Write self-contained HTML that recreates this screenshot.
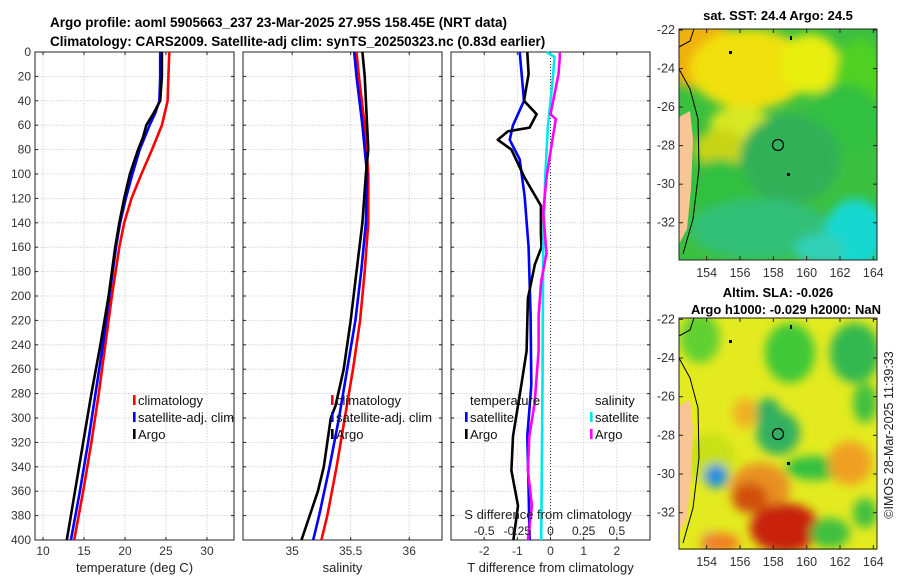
<!DOCTYPE html>
<html><head><meta charset="utf-8"><style>
body{margin:0;background:#fff;width:900px;height:580px;overflow:hidden}
svg text{font-family:"Liberation Sans",sans-serif}
</style></head><body>
<svg id="fig" width="900" height="580" xmlns="http://www.w3.org/2000/svg">
<defs>
<filter id="blur6" x="-50%" y="-50%" width="200%" height="200%"><feGaussianBlur stdDeviation="5"/></filter>
<clipPath id="clipm1"><rect x="679" y="29" width="198" height="231"/></clipPath>
<clipPath id="clipm2"><rect x="679" y="318" width="198" height="232"/></clipPath>
</defs>
<text x="50" y="27" font-size="13.5" font-weight="bold">Argo profile: aoml 5905663_237 23-Mar-2025 27.95S 158.45E (NRT data)</text>
<text x="50" y="46" font-size="13.5" font-weight="bold">Climatology: CARS2009. Satellite-adj clim: synTS_20250323.nc (0.83d earlier)</text>
<g id="g"></g>
<g id="maps"></g>
<text transform="translate(893,435) rotate(-90)" text-anchor="middle" font-size="12.5" fill="#222">©IMOS 28-Mar-2025 11:39:33</text>
</svg>
<script>
// ---- data ----
const depthTicks=[0,20,40,60,80,100,120,140,160,180,200,220,240,260,280,300,320,340,360,380,400];
const tempTicks=[10,15,20,25,30];
const salTicks=[35,35.5,36];
const salTickLabels=["35","35.5","36"];
const tdTicks=[-2,-1,0,1,2];
const sdTicks=[-0.5,-0.25,0,0.25,0.5];
const sdTickLabels=["-0.5","-0.25","0","0.25","0.5"];

const tClimDepth=[0,20,40,60,80,100,120,140,160,200,240,280,320,360,400];
const tClimVal=[25.4,25.3,25.2,24.5,23.3,22.0,20.8,19.9,19.3,18.4,17.6,16.8,15.9,14.9,13.8];
const tSatDepth=[0,20,40,50,60,80,100,120,140,160,200,240,280,320,360,400];
const tSatVal=[24.3,24.3,24.2,23.7,23.0,21.8,20.9,20.1,19.4,18.9,18.1,17.3,16.4,15.5,14.5,13.4];
const tArgoDepth=[0,20,40,50,60,70,80,100,120,140,160,200,240,280,320,360,400];
const tArgoVal=[24.5,24.5,24.3,23.5,22.6,22.2,21.6,20.6,19.9,19.3,18.8,18.0,17.0,15.9,14.9,13.9,12.9];

const sClimDepth=[0,20,60,100,140,180,220,260,300,340,380,400];
const sClimVal=[35.55,35.57,35.62,35.65,35.65,35.62,35.58,35.52,35.45,35.38,35.30,35.25];
const sSatDepth=[0,20,60,100,140,180,220,260,300,340,380,400];
const sSatVal=[35.53,35.55,35.60,35.64,35.63,35.59,35.54,35.47,35.40,35.32,35.23,35.18];
const sArgoDepth=[0,20,40,60,80,100,140,180,220,260,290,300,320,340,360,380,400];
const sArgoVal=[35.6,35.62,35.63,35.64,35.65,35.63,35.6,35.55,35.5,35.44,35.37,35.33,35.3,35.27,35.22,35.15,35.08];

const tdArgoDepth=[0,18,40,51,62,65,72,80,103,126,148,160,174,202,245,273,315,343,372,400];
const tdArgoVal=[-0.7,-0.66,-0.8,-0.42,-0.63,-1.28,-1.59,-1.18,-0.78,-0.29,-0.29,-0.27,-0.47,-0.68,-0.72,-0.88,-1.13,-1.18,-0.98,-1.12];
const tdSatDepth=[0,40,60,72,88,118,160,216,273,315,358,400];
const tdSatVal=[-0.93,-0.8,-1.13,-1.23,-0.93,-0.78,-0.66,-0.6,-0.58,-0.7,-0.66,-0.63];
const sdSatDepth=[0,4,18,62,103,160,273,400];
const sdSatVal=[-0.03,0.03,0.02,-0.02,-0.04,-0.055,-0.06,-0.07];
const sdArgoDepth=[0,4,18,40,51,55,75,103,132,165,188,216,245,288,315,343,372,400];
const sdArgoVal=[0.07,0.07,0.06,0.02,0,0.04,0.01,-0.03,-0.055,-0.03,-0.07,-0.09,-0.09,-0.12,-0.16,-0.17,-0.14,-0.17];

const mapLonTicks=[154,156,158,160,162,164];
const mapLatTicks=[-22,-24,-26,-28,-30,-32];

// ---- helpers ----
const NS="http://www.w3.org/2000/svg";
const G=document.getElementById('g');
function mk(tag,attrs,parent,text){const e=document.createElementNS(NS,tag);for(const k in attrs)e.setAttribute(k,attrs[k]);if(text!==undefined)e.textContent=text;(parent||G).appendChild(e);return e;}
const Y0=52,Y1=540;
function yD(d){return Y0+(d/400)*(Y1-Y0);}
function lin(d0,d1,r0,r1){return v=>r0+(v-d0)/(d1-d0)*(r1-r0);}

const panels=[
 {x0:35,x1:234,sx:lin(9.02,33.3,35,234),ticks:tempTicks,labels:tempTicks.map(String),xlabel:"temperature (deg C)",name:"temperature-panel",ylabels:true},
 {x0:243,x1:442,sx:lin(34.58,36.28,243,442),ticks:salTicks,labels:salTickLabels,xlabel:"salinity",name:"salinity-panel"},
 {x0:451,x1:650,sx:lin(-3,3,451,650),ticks:tdTicks,labels:tdTicks.map(String),xlabel:"T difference from climatology",name:"difference-panel"}
];
panels.forEach((p,pi)=>{
 const g=mk('g',{},G);
 
 
 depthTicks.forEach(d=>{mk('line',{x1:p.x0,x2:p.x1,y1:yD(d),y2:yD(d),stroke:'#c8cce0','stroke-width':0.8,'stroke-dasharray':'1.5,1.5'},g);});
 p.ticks.forEach(t=>{mk('line',{x1:p.sx(t),x2:p.sx(t),y1:Y0,y2:Y1,stroke:'#c8cce0','stroke-width':0.8,'stroke-dasharray':'1.5,1.5'},g);});
 depthTicks.forEach(d=>{mk('line',{x1:p.x0,x2:p.x0+3,y1:yD(d),y2:yD(d),stroke:'#222'},g);mk('line',{x1:p.x1,x2:p.x1-3,y1:yD(d),y2:yD(d),stroke:'#222'},g);
  if(p.ylabels){const t=mk('text',{x:p.x0-4,y:yD(d)+4,'text-anchor':'end','font-size':12,fill:'#333'},g,String(d));}});
 p.ticks.forEach((t,i)=>{const x=p.sx(t);mk('line',{x1:x,x2:x,y1:Y1,y2:Y1-3,stroke:'#222'},g);mk('line',{x1:x,x2:x,y1:Y0,y2:Y0+3,stroke:'#222'},g);
  const tl=mk('text',{x:x,y:555,'text-anchor':'middle','font-size':12,fill:'#333'},g,p.labels[i]);});
 const xl=mk('text',{x:(p.x0+p.x1)/2,y:572,'text-anchor':'middle','font-size':13,fill:'#222'},g,p.xlabel);
 
 mk('rect',{x:p.x0,y:Y0,width:p.x1-p.x0,height:Y1-Y0,fill:'none',stroke:'#222','stroke-width':1},g);
 p.g=g;
});
function line(p,depths,vals,sx,color,name,w){
 const pts=depths.map((d,i)=>sx(vals[i]).toFixed(1)+','+yD(d).toFixed(1)).join(' ');
 const e=mk('polyline',{points:pts,fill:'none',stroke:color,'stroke-width':w||2.6,'stroke-linejoin':'round'},p.g);
 
}
line(panels[0],tClimDepth,tClimVal,panels[0].sx,'#ff0000','temperature-climatology-line');
line(panels[0],tSatDepth,tSatVal,panels[0].sx,'#0000ff','temperature-satellite-line');
line(panels[0],tArgoDepth,tArgoVal,panels[0].sx,'#000','temperature-argo-line');
line(panels[1],sClimDepth,sClimVal,panels[1].sx,'#ff0000','salinity-climatology-line');
line(panels[1],sSatDepth,sSatVal,panels[1].sx,'#0000ff','salinity-satellite-line');
line(panels[1],sArgoDepth,sArgoVal,panels[1].sx,'#000','salinity-argo-line');
const p3=panels[2];
mk('line',{x1:p3.sx(0),x2:p3.sx(0),y1:Y0,y2:Y1,stroke:'#333','stroke-width':1,'stroke-dasharray':'1,2'},p3.g);
const sdx=lin(-0.75,0.75,451,650);
line(p3,tdSatDepth,tdSatVal,p3.sx,'#0000ff','temperature-satellite-diff-line');
line(p3,tdArgoDepth,tdArgoVal,p3.sx,'#000','temperature-argo-diff-line');
line(p3,sdSatDepth,sdSatVal,sdx,'#00e8e8','salinity-satellite-diff-line');
line(p3,sdArgoDepth,sdArgoVal,sdx,'#ff00ff','salinity-argo-diff-line');
const st=mk('text',{x:548,y:519,'text-anchor':'middle','font-size':13,fill:'#222'},p3.g,'S difference from climatology');

sdTicks.forEach((t,i)=>{const e=mk('text',{x:sdx(t),y:535,'text-anchor':'middle','font-size':12,fill:'#222'},p3.g,sdTickLabels[i]);});
function legend(x,y,color,label,name){
 const g=mk('g',{},G);
 if(color)mk('rect',{x:x-2,y:y-10,width:2.6,height:10,fill:color},g);
 mk('text',{x:x+3,y:y,'font-size':13,fill:'#111'},g,label);
}
legend(135,405,'#ff0000','climatology','legend-climatology');
legend(135,422,'#0000ff','satellite-adj. clim','legend-satellite');
legend(135,439,'#000','Argo','legend-argo');
legend(333,405,'#ff0000','climatology','legend-climatology-2');
legend(333,422,'#0000ff','satellite-adj. clim','legend-satellite-2');
legend(333,439,'#000','Argo','legend-argo-2');
legend(467,405,null,'temperature','legend-temperature-header');
legend(467,422,'#0000ff','satellite','legend-t-satellite');
legend(467,439,'#000','Argo','legend-t-argo');
legend(592,405,null,'salinity','legend-salinity-header');
legend(592,422,'#00e8e8','satellite','legend-s-satellite');
legend(592,439,'#ff00ff','Argo','legend-s-argo');

// ---- maps ----
const M=document.getElementById('maps');
function map(top,clip,blobs,base,title1,title2,name,lat22,lat32){
 const g=mk('g',{},M);
 const c=mk('g',{'clip-path':'url(#'+clip+')'},g);
 mk('rect',{x:679,y:top,width:198,height:232,fill:base},c);
 const b=mk('g',{filter:'url(#blur6)'},c);
 blobs.forEach(o=>mk('ellipse',{cx:o[0],cy:top+o[1],rx:o[2],ry:o[3],fill:o[4]},b));
 mk('path',{d:`M679,${top+88} L690,${top+82} L693,${top+110} L691,${top+160} L687,${top+200} L679,${top+215} Z`,fill:'#f9c596'},c);
 mk('path',{d:`M679,${top+40} L690,${top+60} L698,${top+90} L699,${top+140} L693,${top+190} L683,${top+225}`,fill:'none',stroke:'#000','stroke-width':1},c);
 mk('path',{d:`M679,${top+18} L690,${top+12} L694,${top}`,fill:'none',stroke:'#000','stroke-width':1},c);
 mk('circle',{cx:778,cy:top+116,r:5.5,fill:'none',stroke:'#000','stroke-width':1.2},c);
 mk('rect',{x:787,y:top+144,width:3,height:3,fill:'#000'},c);
 mk('rect',{x:729,y:top+22,width:3,height:3,fill:'#000'},c);
 mk('rect',{x:790,y:top+7,width:2,height:4,fill:'#000'},c);
 mk('rect',{x:679,y:top,width:198,height:231,fill:'none',stroke:'#222','stroke-width':1},g);
 const lx=lin(152.34,164.22,679,877);
 mapLonTicks.forEach(v=>{mk('line',{x1:lx(v),x2:lx(v),y1:top+231,y2:top+227,stroke:'#222'},g);mk('line',{x1:lx(v),x2:lx(v),y1:top,y2:top+4,stroke:'#222'},g);
  const t=mk('text',{x:lx(v),y:top+248,'text-anchor':'middle','font-size':12.5,fill:'#333'},g,String(v));});
 const ly=lin(-22,-32,lat22,lat32);
 mapLatTicks.forEach(v=>{mk('line',{x1:679,x2:683,y1:ly(v),y2:ly(v),stroke:'#222'},g);mk('line',{x1:877,x2:873,y1:ly(v),y2:ly(v),stroke:'#222'},g);
  const t=mk('text',{x:675,y:ly(v)+4,'text-anchor':'end','font-size':12.5,fill:'#333'},g,String(v));});
 const t1=mk('text',{x:778,y:title2?top-21:top-9,'text-anchor':'middle','font-size':13,'font-weight':'bold'},g,title1);
 if(title2){const t2=mk('text',{x:786,y:top-4,'text-anchor':'middle','font-size':13,'font-weight':'bold'},g,title2);}
}
map(29,'clipm1',[
 [700,25,40,35,'#f0b010'],[750,40,60,40,'#f0e010'],[810,35,30,30,'#e8ee10'],[860,50,25,40,'#50d020'],[845,90,35,35,'#30c040'],
 [740,95,30,18,'#d8e820'],[720,120,25,20,'#c8d418'],[790,130,50,45,'#30b058'],[720,160,30,30,'#30c040'],
 [760,200,70,30,'#30c078'],[855,205,30,35,'#18d8d0'],[820,220,25,15,'#30d0b8']
],'#3cc040','sat. SST: 24.4 Argo: 24.5',null,'sst-map',30,222.7);
map(318,'clipm2',[
 [700,20,20,25,'#60d030'],[790,35,25,30,'#40c838'],[855,35,25,30,'#30b850'],[768,95,13,15,'#30b060'],
 [745,95,12,15,'#f0b020'],[710,140,25,25,'#c8e018'],[778,115,22,22,'#30b060'],[815,150,30,12,'#30c040'],
 [760,170,30,25,'#e89020'],[750,180,18,15,'#d05010'],[785,210,35,25,'#c82010'],
 [716,158,12,12,'#2090e0'],[712,225,10,10,'#2090e0'],[850,145,22,22,'#f0a020'],[865,85,12,20,'#40c040'],
 [830,215,20,15,'#40c040'],[865,195,12,15,'#40c040'],[720,225,20,10,'#f08020']
],'#e4ea20','Altim. SLA: -0.026','Argo h1000: -0.029 h2000: NaN','sla-map',319.3,512.7);
</script>
</body></html>
